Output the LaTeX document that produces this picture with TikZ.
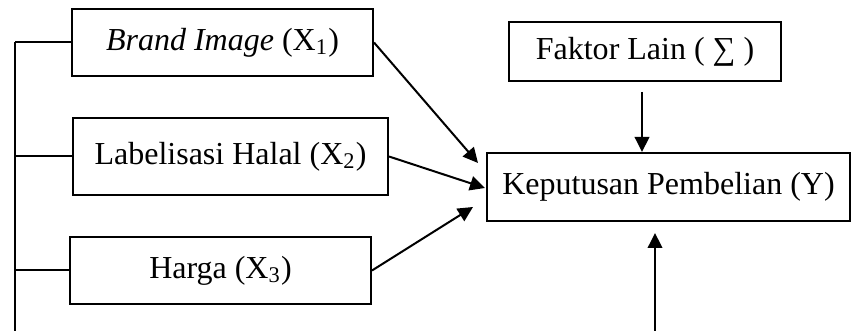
\documentclass[tikz,border=0pt]{standalone}
\usepackage{fontspec}
\setmainfont{Liberation Serif}
\usetikzlibrary{arrows.meta}

\begin{document}
\begin{tikzpicture}[
    x=0.4pt, y=-0.4pt,
    box/.style={draw, line width=0.8pt, inner sep=0pt,
                font=\fontsize{12.8}{15}\selectfont, align=center},
    arr/.style={-{Triangle[length=6pt,width=5.8pt]}, line width=0.8pt},
    link/.style={line width=0.8pt}
]
\useasboundingbox (0,0) rectangle (852,331);

\node[box, minimum width=301*0.4pt, minimum height=67*0.4pt]
    (X1) at (222.5,42.5)  {\textit{Brand Image} (X\textsubscript{1})};
\node[box, minimum width=315*0.4pt, minimum height=77*0.4pt]
    (X2) at (230.5,156.5) {Labelisasi Halal (X\textsubscript{2})};
\node[box, minimum width=301*0.4pt, minimum height=67*0.4pt]
    (X3) at (220.5,270.5) {Harga (X\textsubscript{3})};
\node[box, minimum width=272*0.4pt, minimum height=59*0.4pt]
    (F)  at (645,51.5)    {Faktor Lain ( ∑ )};
\node[box, minimum width=363*0.4pt, minimum height=68*0.4pt]
    (Y)  at (668.5,187)   {Keputusan Pembelian (Y)};

% left bracket line
\coordinate (bt) at (15,42);
\coordinate (bb) at (15,331);
\draw[link] (bt) -- (bb);
\draw[link] (X1.west) -- (X1.west -| bt);
\draw[link] (X2.west) -- (X2.west -| bt);
\draw[link] (X3.west) -- (X3.west -| bt);

% arrows into Y
\coordinate (in1) at (478,163);
\coordinate (in2) at (485,188);
\coordinate (in3) at (473,207);
\draw[arr] (X1.east) -- (in1);
\draw[arr] (X2.east) -- (in2);
\draw[arr] (X3.east) -- (in3);

\coordinate (f1) at (642,92);
\draw[arr] (f1) -- (f1 |- Y.north);
\coordinate (b1) at (655,331);
\draw[arr] (b1) -- (655,233);

\end{tikzpicture}
\end{document}
